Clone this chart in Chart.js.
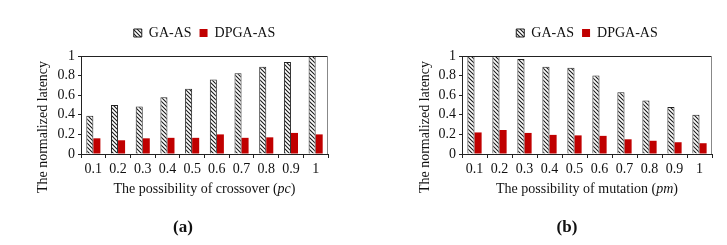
<!DOCTYPE html>
<html><head><meta charset="utf-8">
<script src="https://cdn.jsdelivr.net/npm/chart.js@4/dist/chart.umd.min.js"></script>
<style>
html,body{margin:0;padding:0;background:#fff}
body{width:727px;height:245px;overflow:hidden;position:relative}
.box{position:absolute;top:0;height:245px}
.cap{position:absolute;top:217px;width:60px;text-align:center;font:bold 17px "Liberation Serif",serif;color:#111}
</style>
</head><body>
<div class="box" style="left:0;width:363px"><canvas id="ca"></canvas></div>
<div class="box" style="left:363px;width:364px"><canvas id="cb"></canvas></div>
<div class="cap" style="left:153px">(a)</div>
<div class="cap" style="left:537px">(b)</div>
<script>
const categories = ['0.1','0.2','0.3','0.4','0.5','0.6','0.7','0.8','0.9','1'];
const seriesNames = ['GA-AS','DPGA-AS'];
const gaCrossover   = [0.39,0.50,0.485,0.58,0.665,0.76,0.825,0.89,0.94,1.00];
const dpgaCrossover = [0.16,0.14,0.16,0.165,0.165,0.20,0.165,0.17,0.215,0.20];
const gaMutation    = [1.00,1.00,0.97,0.89,0.88,0.80,0.63,0.545,0.48,0.40];
const dpgaMutation  = [0.22,0.245,0.215,0.195,0.19,0.185,0.15,0.135,0.12,0.11];
const yTicks = ['0','0.2','0.4','0.6','0.8','1'];
const xTitles = ['The possibility of crossover (', 'The possibility of mutation ('];
const yTitle = 'The normalized latency';

function hatch(){
  const c = document.createElement('canvas'); c.width = 4; c.height = 4;
  const g = c.getContext('2d');
  g.fillStyle = '#fff'; g.fillRect(0,0,4,4);
  g.strokeStyle = '#1a1a1a'; g.lineWidth = 1.1;
  g.beginPath();
  g.moveTo(-1,-1); g.lineTo(5,5);
  g.moveTo(-1,3); g.lineTo(1,5);
  g.moveTo(3,-1); g.lineTo(5,1);
  g.stroke();
  return g.createPattern(c,'repeat');
}
const FONT = '"Liberation Serif", "Times New Roman", serif';
const TXT = '#111';

const framePlugin = {
  id:'frame',
  afterInit(chart){
    const L = chart.legend;
    if (L && !L._wrapped){
      const f = L.fit.bind(L);
      L.fit = function(){ f(); this.height += 6; };
      L._wrapped = true;
    }
  },
  afterLayout(chart){
    const L = chart.legend, a = chart.chartArea;
    if (!L || !L.lineWidths) return;
    const w = L.lineWidths[0];
    const cur = (L.left + L.right)/2;
    const dx = (a.left + a.right)/2 - cur;
    L.left += dx; L.right += dx;
    if (L.legendHitBoxes) L.legendHitBoxes.forEach(h=>{h.left += dx;});
  },
  afterDatasetsDraw(chart){
    const a = chart.chartArea, ctx = chart.ctx;
    ctx.save();
    ctx.lineWidth = 1;
    ctx.strokeStyle = '#222';
    ctx.beginPath(); ctx.moveTo(a.left, a.top+0.5); ctx.lineTo(a.right, a.top+0.5); ctx.stroke();
    ctx.strokeStyle = '#888';
    ctx.beginPath(); ctx.moveTo(a.right-0.5, a.top); ctx.lineTo(a.right-0.5, a.bottom); ctx.stroke();
    ctx.restore();
  }
};
const yTitlePlugin = {
  id:'ytitle',
  afterDraw(chart, args, opts){
    const ctx = chart.ctx;
    ctx.save();
    ctx.translate(opts.x, opts.y);
    ctx.rotate(-Math.PI/2);
    ctx.font = '14px ' + FONT;
    ctx.fillStyle = TXT;
    ctx.textAlign = 'center'; ctx.textBaseline = 'middle';
    ctx.fillText(opts.text, 0, 0);
    ctx.restore();
  }
};
const xTitlePlugin = {
  id:'xtitle',
  afterDraw(chart, args, opts){
    const ctx = chart.ctx, a = chart.chartArea;
    ctx.save();
    ctx.fillStyle = TXT; ctx.textBaseline = 'middle';
    const f1 = '14px ' + FONT, f2 = 'italic 14px ' + FONT;
    const parts = [[opts.pre,f1],[opts.var,f2],[')',f1]];
    let w = 0;
    parts.forEach(p=>{ctx.font=p[1]; w+=ctx.measureText(p[0]).width;});
    let x = (a.left + a.right)/2 - w/2;
    ctx.textAlign = 'left';
    parts.forEach(p=>{ctx.font=p[1]; ctx.fillText(p[0], x, opts.y); x+=ctx.measureText(p[0]).width;});
    ctx.restore();
  }
};

function make(id, ga, dp, yW, rightPad, xPre, xVar, yTx){
  const pat = hatch();
  return new Chart(document.getElementById(id), {
    type:'bar',
    data:{
      labels: categories,
      datasets:[
        {label:seriesNames[0], data:ga, backgroundColor:pat, borderColor:'#222', borderWidth:1, categoryPercentage:0.57, barPercentage:1},
        {label:seriesNames[1], data:dp, backgroundColor:'#c00000', borderWidth:0, categoryPercentage:0.57, barPercentage:1}
      ]
    },
    options:{
      responsive:true, maintainAspectRatio:false, animation:false,
      layout:{padding:{left:0,right:rightPad,top:18,bottom:41}},
      plugins:{
        legend:{display:true, position:'top',
          labels:{font:{family:FONT,size:14}, color:TXT, boxWidth:8, boxHeight:8, padding:8}},
        tooltip:{enabled:false},
        ytitle:{text:yTitle, x:yTx, y:127},
        xtitle:{pre:xPre, var:xVar, y:189}
      },
      scales:{
        x:{
          grid:{display:true, drawOnChartArea:false, drawTicks:true, tickLength:4, offset:true, color:'#222'},
          border:{display:true, color:'#222'},
          ticks:{font:{family:FONT,size:14}, color:TXT, padding:3, maxRotation:0, autoSkip:false},
          afterFit(s){ s.height = 50; }
        },
        y:{
          min:0, max:1,
          grid:{display:true, drawOnChartArea:false, drawTicks:true, tickLength:3, color:'#222'},
          border:{display:true, color:'#222'},
          ticks:{stepSize:0.2, autoSkip:false, font:{family:FONT,size:14}, color:TXT, padding:3,
                 callback:(v,i)=>yTicks[i]},
          afterFit(s){ s.width = yW; }
        }
      }
    },
    plugins:[framePlugin, yTitlePlugin, xTitlePlugin]
  });
}
make('ca', gaCrossover, dpgaCrossover, 81, 35, xTitles[0], 'pc', 43);
make('cb', gaMutation, dpgaMutation, 99, 15, xTitles[1], 'pm', 62);
</script>
</body></html>
